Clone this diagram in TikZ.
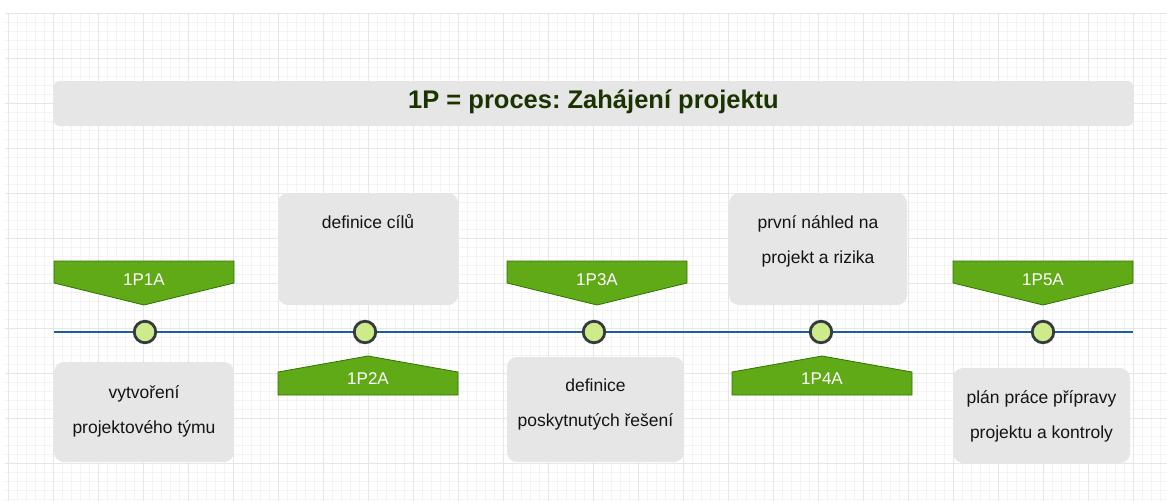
\documentclass[tikz,border=0pt]{standalone}
\usepackage{fontspec}
\setmainfont{Liberation Sans}
\usetikzlibrary{positioning}
\frenchspacing

\definecolor{gridmin}{HTML}{F3F3F3}
\definecolor{gridmaj}{HTML}{E6E6E6}
\definecolor{boxgrey}{HTML}{E6E6E6}
\definecolor{tlblue}{HTML}{1C5EA6}
\definecolor{dotfill}{HTML}{CDEB8B}
\definecolor{dotline}{HTML}{36393D}
\definecolor{greenfill}{HTML}{60A917}
\definecolor{greenline}{HTML}{2D7600}
\definecolor{titlecol}{HTML}{1A3300}
\definecolor{textcol}{HTML}{141414}

\begin{document}
\begin{tikzpicture}[x=1pt, y=-1pt,
  gridminor/.style={draw=gridmin, line width=0.6pt},
  gridmajor/.style={draw=gridmaj, line width=0.8pt},
  greybox/.style={fill=boxgrey, rounded corners=10pt, inner sep=0pt},
  boxtext/.style={align=center, text=textcol, font=\fontsize{17.5}{35}\selectfont},
  flag/.style={fill=greenfill, draw=greenline, line width=0.8pt},
  flagtext/.style={text=white, font=\fontsize{17}{20}\selectfont},
  dot/.style={circle, fill=dotfill, draw=dotline, line width=2.8pt, minimum size=21.5pt, inner sep=0pt}]

\useasboundingbox (0,0) rectangle (1167,501);

% background grid
\foreach \x in {8,17,...,1166} \draw[gridminor] (\x,13) -- (\x,501);
\foreach \y in {13,22,...,500} \draw[gridminor] (5,\y) -- (1167,\y);
\foreach \x in {8,53,...,1166} \draw[gridmajor] (\x,13) -- (\x,501);
\foreach \y in {13,58,...,500} \draw[gridmajor] (5,\y) -- (1167,\y);

% title
\node[greybox, rounded corners=5pt, minimum width=1079pt, minimum height=45pt, text=titlecol,
  font=\fontsize{25.5}{30}\selectfont\bfseries, text height=15pt, text depth=5.4pt]
  (title) at (593.5,103.5) {1P = proces: Zahájení projektu};

% time line
\coordinate (tlstart) at (54,332);
\coordinate (tlend) at (1133,332);
\draw[tlblue, line width=2.4pt] (tlstart) -- (tlend);

\foreach \n/\x in {1/145,2/365,3/594,4/821,5/1043}
  \node[dot] (d\n) at (\x,332) {};

% flags above the line
\foreach \n/\x in {1/144,3/597,5/1043} {
  \draw[flag] (\x-90,261) -- ++(180,0) -- ++(0,22) -- (\x,305) -- (\x-90,283) -- cycle;
  \node[flagtext] (f\n) at (\x,280) {1P\n{}A};
}

% flags below the line
\foreach \n/\x in {2/368,4/822} {
  \draw[flag] (\x-90,395) -- ++(180,0) -- ++(0,-23) -- (\x,356) -- (\x-90,372) -- cycle;
  \node[flagtext] (f\n) at (\x,379) {1P\n{}A};
}

% steps
\node[greybox, minimum width=180pt, minimum height=100pt] (b1) at (144,412) {};
\node[boxtext] (t1) at (144,411) {vytvoření\\projektového týmu};

\node[greybox, minimum width=180pt, minimum height=112pt] (b2) at (368,249) {};
\node[boxtext] (t2) at (368,222) {definice cílů};

\node[greybox, minimum width=177pt, minimum height=105pt] (b3) at (595.5,409.5) {};
\node[boxtext] (t3) at (595.5,404) {definice\\poskytnutých řešení};

\node[greybox, minimum width=178pt, minimum height=112pt] (b4) at (818,249) {};
\node[boxtext] (t4) at (818,241) {první náhled na\\projekt a rizika};

\node[greybox, minimum width=177pt, minimum height=95pt] (b5) at (1041.5,415.5) {};
\node[boxtext] (t5) at (1041.5,416) {plán práce přípravy\\projektu a kontroly};

\end{tikzpicture}
\end{document}
